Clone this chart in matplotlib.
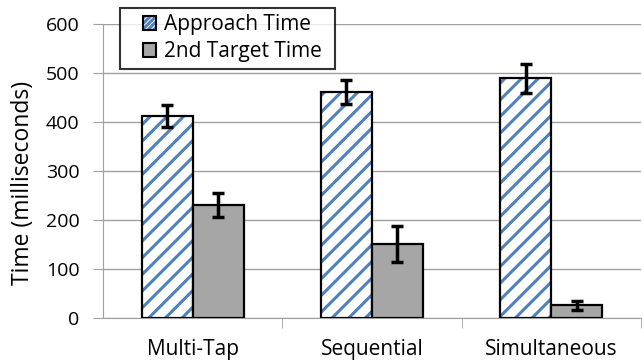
import numpy as np
import matplotlib
matplotlib.use('Agg')
import matplotlib.pyplot as plt
from matplotlib.patches import Patch
from matplotlib.legend_handler import HandlerTuple, HandlerPatch

# 데이터
categories = ['Multi-Tap', 'Sequential', 'Simultaneous']
approach = [412, 461, 489]
approach_err = [22, 24, 30]
second = [230, 151, 26]
second_err = [25, 37, 9]

plt.rcParams['font.family'] = ['Open Sans', 'DejaVu Sans']
plt.rcParams['hatch.linewidth'] = 2.2

fig = plt.figure(figsize=(6.44, 3.62), dpi=100)
ax = fig.add_axes([0.16, 0.122, 0.835, 0.812])

x = np.arange(len(categories))
w = 0.285
blue = '#4F81BD'
# 줄무늬 막대: 해치 색을 따로 주기 위해 두 번 그림
ax.bar(x - w / 2, approach, w, color='white', edgecolor=blue, linewidth=0,
       hatch='//', zorder=3)
ax.bar(x - w / 2, approach, w, fill=False, edgecolor='black', linewidth=1.6, zorder=3)
ax.bar(x + w / 2, second, w, color='#A6A6A6', edgecolor='black', linewidth=1.6, zorder=3)
ax.errorbar(x - w / 2, approach, yerr=approach_err, fmt='none', ecolor='black',
            elinewidth=2.5, capsize=4.5, capthick=2.5, zorder=4)
ax.errorbar(x + w / 2, second, yerr=second_err, fmt='none', ecolor='black',
            elinewidth=2.5, capsize=4.5, capthick=2.5, zorder=4)

ax.set_xlim(-0.5, 2.5)
ax.set_ylim(0, 600)
ax.set_yticks(range(0, 601, 100))
ax.set_xticks(x)
ax.set_xticklabels(categories, fontsize=15)
ax.set_xticks([0.5, 1.5, 2.5], minor=True)
ax.tick_params(axis='x', which='major', length=0, pad=15)
ax.tick_params(axis='x', which='minor', length=7, color='#A0A0A0')
ax.tick_params(axis='y', length=7, color='#A0A0A0', labelsize=14, pad=10)
ax.yaxis.grid(True, color='#A0A0A0', linewidth=1)
ax.set_axisbelow(True)
for s in ['top', 'right']:
    ax.spines[s].set_visible(False)
for s in ['left', 'bottom']:
    ax.spines[s].set_color('#A0A0A0')
ax.set_ylabel('Time (milliseconds)', fontsize=16.5)
ax.yaxis.set_label_coords(-0.126, 0.46)

h1 = (Patch(facecolor='white', edgecolor=blue, linewidth=0, hatch='//////'),
      Patch(fill=False, edgecolor='black', linewidth=1.5))
h2 = Patch(facecolor='#A6A6A6', edgecolor='black', linewidth=1.5)
leg = fig.legend([h1, h2], ['Approach Time', '2nd Target Time'],
                 handler_map={tuple: HandlerTuple(ndivide=1, xpad=0.8),
                              Patch: HandlerPatch(xpad=0.8)},
                 loc='upper left', mode='expand',
                 bbox_to_anchor=(120 / 644, 1 - 67 / 362, 215 / 644, 59 / 362),
                 fontsize=15, frameon=True, fancybox=False, edgecolor='black',
                 handlelength=1.45, handleheight=0.65, handletextpad=0.35,
                 borderpad=0.3, labelspacing=0.3, borderaxespad=0)
leg.get_frame().set_linewidth(1.5)

fig.savefig('out.png', dpi=100)
